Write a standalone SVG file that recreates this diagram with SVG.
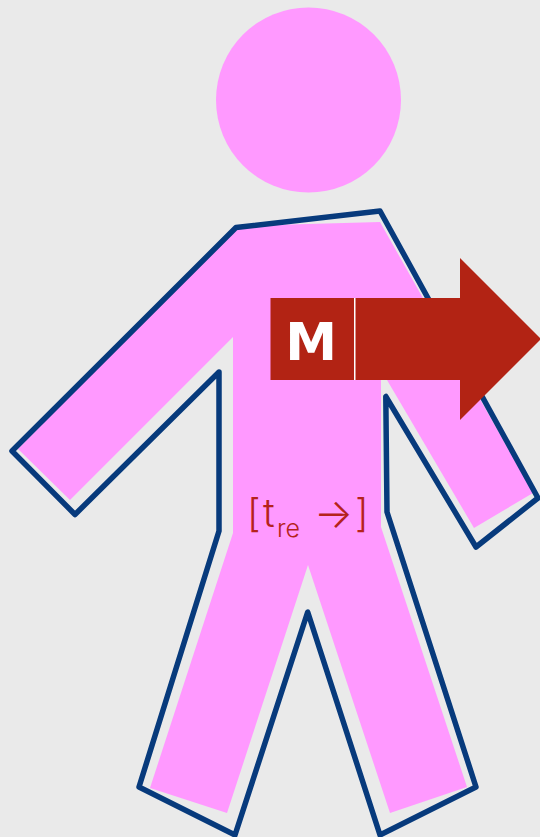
<svg xmlns="http://www.w3.org/2000/svg" width="540" height="837" viewBox="0 0 540 837">
<style>
.pink{fill:#ff99ff}
.lab{font-family:"Inter","Liberation Sans",sans-serif;fill:#b5231c;font-weight:300}
</style>
<rect id="background" width="540" height="837" fill="#eaeaea"/>
<g id="figure">
<circle id="head" class="pink" cx="308.500" cy="100" r="92.500"/>
<polygon id="body" class="pink" points="236,226 380,222 533,493 474,528 387,380 381,380 381,527 467,787 390,813 308,565 227,813 150,788 233,533 233,337 70,500 18,449"/>
<polygon id="outline" fill="none" stroke="#073a7c" stroke-width="5.500" stroke-linejoin="round" points="236,227.500 380,211 538,498 476,547 385.800,396.500 387,512 476,787 380,835 307.700,612 235,835 139,787 219,531 219,372 75,514.500 12,451"/>
</g>
<g id="arrow">
<polygon fill="#b22314" points="270.500,298 460,298 460,258 541,339 460,420 460,380 270.500,380"/>
<rect x="354" y="298" width="1.500" height="82" fill="#ffffff"/>
<text x="311" y="360" text-anchor="middle" font-family="DejaVu Sans, sans-serif" font-weight="700" font-size="52" fill="#ffffff">M</text>
</g>
<g id="label">
<text class="lab" x="247" y="527" font-size="39">[</text>
<text class="lab" x="263" y="527" font-size="39">t</text>
<text class="lab" x="277" y="537" font-size="25">re</text>
<text class="lab" x="314" y="528" font-size="41" font-weight="400">→</text>
<text class="lab" x="355" y="527" font-size="39">]</text>
</g>
</svg>
